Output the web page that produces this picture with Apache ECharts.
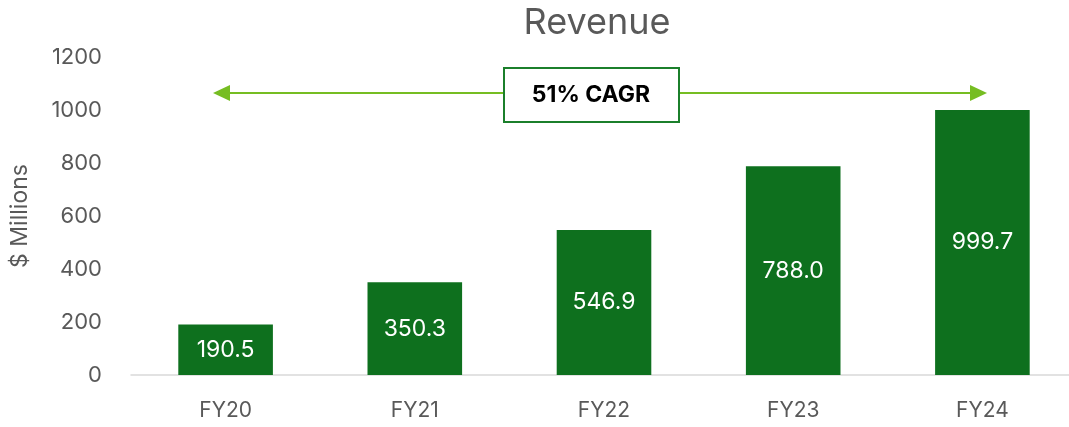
<!DOCTYPE html>
<html>
<head>
<meta charset="utf-8">
<script src="https://cdn.jsdelivr.net/npm/echarts@6/dist/echarts.min.js"></script>
<style>
  html, body { margin: 0; padding: 0; background: #fff; }
  #chart { width: 1069px; height: 427px; }
</style>
</head>
<body>
<div id="chart"></div>
<script>
// data
const years = ["FY20", "FY21", "FY22", "FY23", "FY24"];
const revenue = [190.5, 350.3, 546.9, 788.0, 999.7];

const FONT = "Inter, 'Open Sans', sans-serif";
const chart = echarts.init(document.getElementById("chart"));

const arrowGreen = "#76bd22";

const option = {
  animation: false,
  title: {
    text: "Revenue",
    left: 592,
    top: 0,
    textAlign: "center",
    textStyle: { fontFamily: FONT, fontSize: 36, fontWeight: "normal", color: "#595959" },
  },
  grid: { left: 131, top: 57, bottom: 52, width: 946, outerBoundsMode: "none", containLabel: false },
  xAxis: {
    type: "category",
    data: years,
    axisLine: { lineStyle: { color: "#d9d9d9", width: 1.5 } },
    axisTick: { show: false },
    axisLabel: { fontFamily: FONT, fontSize: 21, color: "#595959", margin: 25 },
  },
  yAxis: {
    type: "value",
    min: 0,
    max: 1200,
    interval: 200,
    name: "$ Millions",
    nameLocation: "middle",
    nameGap: 99,
    nameTextStyle: { fontFamily: FONT, fontSize: 23, color: "#595959" },
    splitLine: { show: false },
    axisLine: { show: false },
    axisTick: { show: false },
    axisLabel: {
      fontFamily: FONT,
      fontSize: 22,
      color: "#595959",
      margin: 29,
      formatter: (v) => String(v),
    },
  },
  series: [
    {
      type: "bar",
      data: revenue,
      barWidth: "50%",
      itemStyle: { color: "#0e701e" },
      label: {
        show: true,
        position: "inside",
        formatter: (p) => p.value.toFixed(1),
        fontFamily: FONT,
        fontSize: 23,
        color: "#ffffff",
      },
    },
  ],
  graphic: [
    // CAGR arrow
    { type: "line", shape: { x1: 226, y1: 93, x2: 974, y2: 93 }, style: { stroke: arrowGreen, lineWidth: 2 } },
    { type: "polygon", shape: { points: [[213, 93], [230, 85], [230, 101]] }, style: { fill: arrowGreen } },
    { type: "polygon", shape: { points: [[987, 93], [970, 85], [970, 101]] }, style: { fill: arrowGreen } },
    {
      type: "rect",
      shape: { x: 504, y: 68, width: 175, height: 54 },
      style: { fill: "#ffffff", stroke: "#1b7f2b", lineWidth: 2 },
    },
    {
      type: "text",
      x: 591,
      y: 95,
      style: {
        text: "51% CAGR",
        fontFamily: FONT,
        fontSize: 23,
        fontWeight: "bold",
        fill: "#000000",
        align: "center",
        verticalAlign: "middle",
      },
    },
  ],
};

chart.setOption(option);
</script>
</body>
</html>
